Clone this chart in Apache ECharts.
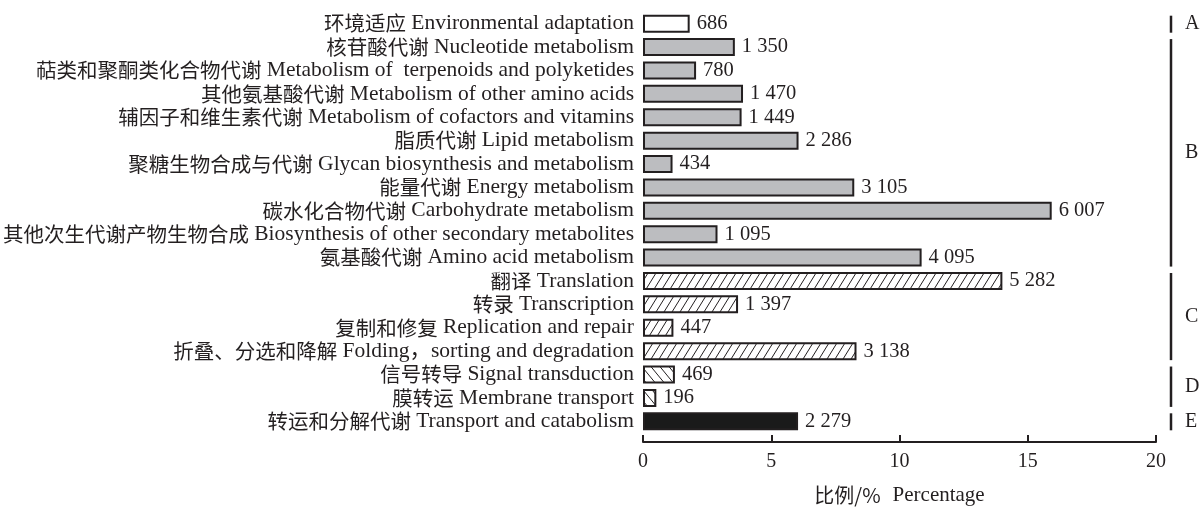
<!DOCTYPE html>
<html>
<head>
<meta charset="utf-8">
<script src="https://cdn.jsdelivr.net/npm/echarts@6/dist/echarts.min.js"></script>
<style>
  html, body { margin: 0; padding: 0; background: #ffffff; }
  #chart { width: 1204px; height: 511px; }
</style>
</head>
<body>
<div id="chart"></div>
<script>
// KEGG pathway categories, top to bottom
const categories = [
  '环境适应 Environmental adaptation',
  '核苷酸代谢 Nucleotide metabolism',
  '萜类和聚酮类化合物代谢 Metabolism of  terpenoids and polyketides',
  '其他氨基酸代谢 Metabolism of other amino acids',
  '辅因子和维生素代谢 Metabolism of cofactors and vitamins',
  '脂质代谢 Lipid metabolism',
  '聚糖生物合成与代谢 Glycan biosynthesis and metabolism',
  '能量代谢 Energy metabolism',
  '碳水化合物代谢 Carbohydrate metabolism',
  '其他次生代谢产物生物合成 Biosynthesis of other secondary metabolites',
  '氨基酸代谢 Amino acid metabolism',
  '翻译 Translation',
  '转录 Transcription',
  '复制和修复 Replication and repair',
  '折叠、分选和降解 Folding，sorting and degradation',
  '信号转导 Signal transduction',
  '膜转运 Membrane transport',
  '转运和分解代谢 Transport and catabolism'
];

// Number of annotated unigenes in each pathway
const geneCounts = [686, 1350, 780, 1470, 1449, 2286, 434, 3105, 6007, 1095, 4095,
                    5282, 1397, 447, 3138, 469, 196, 2279];

// Top-level class of each pathway
const pathwayClass = ['A', 'B', 'B', 'B', 'B', 'B', 'B', 'B', 'B', 'B', 'B',
                      'C', 'C', 'C', 'C', 'D', 'D', 'E'];

// Total annotated unigenes (denominator for percentages)
const totalAnnotated = 37700;

// Percentage axis
const xMin = 0, xMax = 20, xStep = 5;
const xAxisTitle = '比例/%\u3000Percentage';

const INK = '#231f20';
const FONT = "'Liberation Serif', 'Times New Roman', 'Noto Sans CJK SC', serif";
const CJK = "'Noto Sans CJK SC', sans-serif";

// Diagonal hatch tile for pattern fills
function hatchTile(w, h, forward) {
  const c = document.createElement('canvas');
  c.width = w; c.height = h;
  const g = c.getContext('2d');
  g.fillStyle = '#ffffff';
  g.fillRect(0, 0, w, h);
  g.strokeStyle = INK;
  g.lineWidth = 1;
  for (let k = -1; k <= 1; k++) {
    g.beginPath();
    if (forward) { g.moveTo(k * w, h); g.lineTo((k + 1) * w, 0); }
    else { g.moveTo(k * w, 0); g.lineTo((k + 1) * w, h); }
    g.stroke();
  }
  return c;
}

const classStyle = {
  A: { color: '#ffffff', borderColor: INK, borderWidth: 2 },
  B: { color: '#bcbdc0', borderColor: INK, borderWidth: 2 },
  C: { color: { image: hatchTile(8, 13, true), repeat: 'repeat' }, borderColor: INK, borderWidth: 2 },
  D: { color: { image: hatchTile(9, 11, false), repeat: 'repeat' }, borderColor: INK, borderWidth: 2 },
  E: { color: '#1a1a1a', borderColor: INK, borderWidth: 2 }
};

function spaced(n) {
  return String(n).replace(/\B(?=(\d{3})+(?!\d))/g, ' ');
}

const barData = geneCounts.map((n, i) => ({
  value: n / totalAnnotated * 100,
  count: n,
  itemStyle: classStyle[pathwayClass[i]]
}));

// Bracket spans for each class: [x anchor, first index, last index]
const classLetters = [];
const classSpans = [];
pathwayClass.forEach((c, i) => {
  const k = classLetters.indexOf(c);
  if (k < 0) { classLetters.push(c); classSpans.push([xMax, i, i]); }
  else { classSpans[k][2] = i; }
});

const chart = echarts.init(document.getElementById('chart'), null, { renderer: 'canvas' });

chart.setOption({
  animation: false,
  backgroundColor: '#ffffff',
  textStyle: { fontFamily: FONT, color: INK },
  grid: { left: 641, right: 48, top: 12, bottom: 77, containLabel: false },
  xAxis: {
    type: 'value',
    min: xMin, max: xMax, interval: xStep,
    position: 'bottom',
    offset: 9,
    splitLine: { show: false },
    axisLine: { show: true, lineStyle: { color: INK, width: 2 } },
    axisTick: { show: true, inside: true, length: 7, lineStyle: { color: INK, width: 2 } },
    axisLabel: { margin: 10, fontSize: 20, color: INK, fontFamily: FONT },
    name: xAxisTitle,
    nameLocation: 'middle',
    nameGap: 43,
    nameTextStyle: {
      color: INK,
      rich: {}
    }
  },
  yAxis: {
    type: 'category',
    inverse: true,
    data: categories,
    axisLine: { show: false },
    axisTick: { show: false },
    splitLine: { show: false },
    axisLabel: {
      interval: 0,
      margin: 9,
      color: INK,
      fontFamily: FONT,
      fontSize: 21,
      formatter: function (v) {
        const p = v.indexOf(' ');
        return '{zh|' + v.slice(0, p) + '} {en|' + v.slice(p + 1) + '}';
      },
      rich: {
        zh: { fontSize: 20.5, fontFamily: CJK, color: INK },
        en: { fontSize: 21.5, fontFamily: FONT, color: INK }
      }
    }
  },
  series: [
    {
      type: 'bar',
      data: barData,
      barWidth: 18,
      label: {
        show: true,
        position: 'right',
        distance: 7,
        fontSize: 20.5,
        fontFamily: FONT,
        color: INK,
        formatter: p => spaced(p.data.count)
      }
    },
    {
      type: 'custom',
      silent: true,
      clip: false,
      data: classSpans,
      encode: { x: 0, y: 1 },
      renderItem: function (params, api) {
        const top = api.coord([api.value(0), api.value(1)]);
        const bot = api.coord([api.value(0), api.value(2)]);
        const x = top[0] + 15;
        const y1 = top[1] - 8;
        const y2 = bot[1] + 9;
        return {
          type: 'group',
          children: [
            { type: 'line', shape: { x1: x, y1: y1, x2: x, y2: y2 },
              style: { stroke: INK, lineWidth: 2.5 } },
            { type: 'text',
              style: { x: x + 14, y: (y1 + y2) / 2, text: classLetters[params.dataIndex],
                       fontSize: 20, fontFamily: FONT, fill: INK,
                       align: 'left', verticalAlign: 'middle' } }
          ]
        };
      }
    }
  ]
});

// Axis title: Chinese and English parts in their own faces
chart.setOption({
  xAxis: {
    name: '{zh|比例/%}\u3000{en|Percentage}',
    nameTextStyle: {
      rich: {
        zh: { fontSize: 20, fontFamily: CJK, color: INK },
        en: { fontSize: 21, fontFamily: FONT, color: INK }
      }
    }
  }
});
</script>
</body>
</html>
